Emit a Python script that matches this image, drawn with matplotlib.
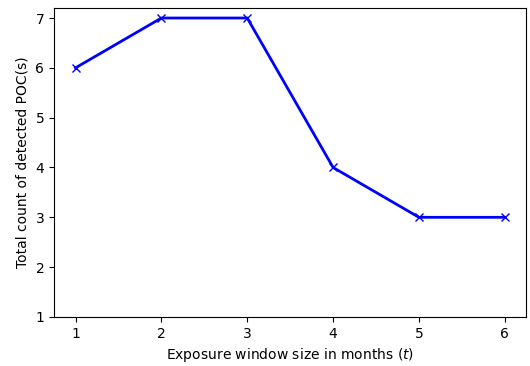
import matplotlib
matplotlib.use("Agg")
import matplotlib.pyplot as plt

window = [1, 2, 3, 4, 5, 6]
poc_count = [6, 7, 7, 4, 3, 3]

fig = plt.figure(figsize=(5.3, 3.66), dpi=100)
ax = fig.add_axes([0.102, 0.134, 0.891, 0.844])
ax.plot(window, poc_count, color="blue", marker="x", linewidth=2, markersize=6)
ax.set_ylim(bottom=1)
ax.set_xlabel("Exposure window size in months ($t$)")
ax.set_ylabel("Total count of detected POC(s)")
fig.savefig("out.png", dpi=100)
